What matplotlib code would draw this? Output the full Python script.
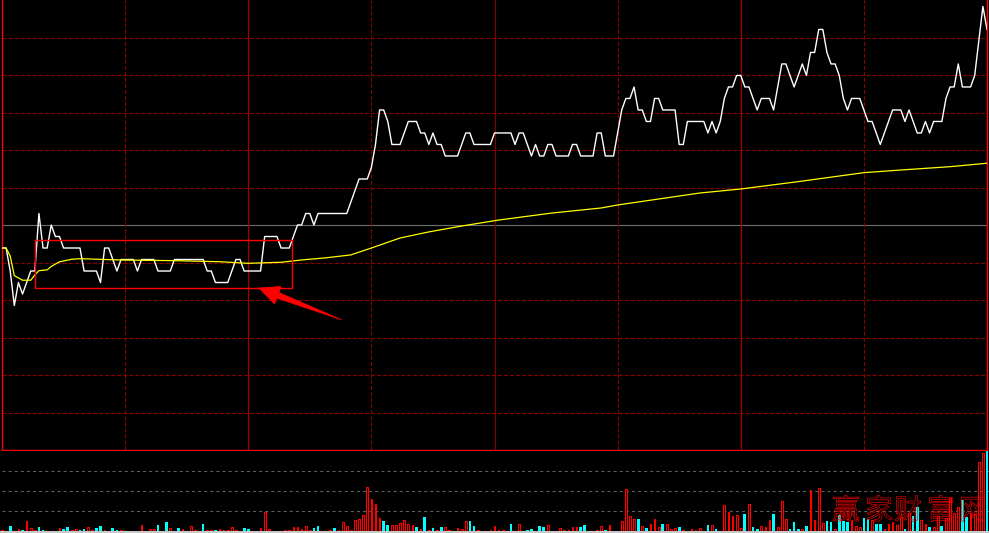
import matplotlib
matplotlib.use('Agg')
import matplotlib.pyplot as plt
from matplotlib.patches import Rectangle, Polygon, PathPatch
from matplotlib.textpath import TextPath
from matplotlib.font_manager import FontProperties
from matplotlib.transforms import Affine2D
import numpy as np

plt.rcParams['lines.scale_dashes'] = False

# ---------------- data ----------------
prev_close = 3.26

price = [
    3.24, 3.24, 3.22, 3.19, 3.21, 3.20, 3.21, 3.22, 3.22, 3.27,
    3.24, 3.24, 3.26, 3.25, 3.25, 3.24, 3.24, 3.24, 3.24, 3.24,
    3.22, 3.22, 3.22, 3.22, 3.21, 3.24, 3.24, 3.23, 3.22, 3.23,
    3.23, 3.23, 3.23, 3.22, 3.23, 3.23, 3.23, 3.23, 3.22, 3.22,
    3.22, 3.22, 3.23, 3.23, 3.23, 3.23, 3.23, 3.23, 3.23, 3.23,
    3.22, 3.22, 3.21, 3.21, 3.21, 3.21, 3.22, 3.23, 3.23, 3.22,
    3.22, 3.22, 3.22, 3.22, 3.25, 3.25, 3.25, 3.25, 3.24, 3.24,
    3.24, 3.25, 3.26, 3.26, 3.27, 3.27, 3.26, 3.27, 3.27, 3.27,
    3.27, 3.27, 3.27, 3.27, 3.27, 3.28, 3.29, 3.30, 3.30, 3.30,
    3.31, 3.33, 3.36, 3.36, 3.35, 3.33, 3.33, 3.33, 3.34, 3.35,
    3.35, 3.35, 3.34, 3.34, 3.33, 3.34, 3.33, 3.33, 3.32, 3.32,
    3.32, 3.32, 3.33, 3.34, 3.34, 3.33, 3.33, 3.33, 3.33, 3.33,
    3.34, 3.34, 3.34, 3.34, 3.34, 3.33, 3.34, 3.34, 3.33, 3.32,
    3.33, 3.32, 3.32, 3.33, 3.33, 3.32, 3.32, 3.32, 3.32, 3.33,
    3.33, 3.32, 3.32, 3.32, 3.32, 3.34, 3.34, 3.32, 3.32, 3.32,
    3.34, 3.36, 3.37, 3.37, 3.38, 3.36, 3.36, 3.35, 3.35, 3.37,
    3.37, 3.36, 3.36, 3.36, 3.36, 3.33, 3.33, 3.35, 3.35, 3.35,
    3.35, 3.35, 3.34, 3.35, 3.34, 3.35, 3.37, 3.38, 3.38, 3.39,
    3.39, 3.38, 3.38, 3.37, 3.36, 3.37, 3.37, 3.37, 3.36, 3.38,
    3.40, 3.40, 3.39, 3.38, 3.39, 3.40, 3.39, 3.41, 3.41, 3.43,
    3.43, 3.41, 3.40, 3.40, 3.39, 3.37, 3.36, 3.37, 3.37, 3.37,
    3.36, 3.35, 3.35, 3.34, 3.33, 3.34, 3.35, 3.36, 3.36, 3.36,
    3.35, 3.36, 3.35, 3.34, 3.34, 3.35, 3.34, 3.35, 3.35, 3.35,
    3.37, 3.38, 3.38, 3.40, 3.38, 3.38, 3.38, 3.39, 3.42, 3.45, 3.43,
]

avg_minute = [0, 1, 2, 3, 5, 7, 8, 9, 11, 12, 14, 17, 19, 29, 42, 53, 60, 68,
              73, 79, 85, 90, 97, 104, 112, 121, 134, 146, 150, 160, 170, 180,
              194, 210, 219, 231, 240]
avg_price = [3.2400, 3.2400, 3.2330, 3.2160, 3.2120, 3.2120, 3.2165, 3.2203,
             3.2210, 3.2240, 3.2280, 3.2302, 3.2307, 3.2296, 3.2290, 3.2281,
             3.2267, 3.2276, 3.2296, 3.2315, 3.2340, 3.2400, 3.2487, 3.2540,
             3.2591, 3.2643, 3.2704, 3.2748, 3.2774, 3.2826, 3.2878, 3.2913,
             3.2977, 3.3055, 3.3078, 3.3107, 3.3137]

volume = [
    1, 0, 5, 0, 2, 1, 10, 3, 1, 4,
    1, 0, 0, 0, 3, 2, 4, 1, 2, 1,
    2, 4, 1, 3, 5, 1, 0, 3, 1, 1,
    0, 0, 0, 0, 6, 0, 2, 2, 6, 0,
    9, 3, 0, 3, 2, 0, 5, 1, 0, 7,
    1, 1, 1, 2, 1, 1, 4, 1, 0, 3,
    2, 0, 0, 3, 19, 2, 0, 0, 0, 1,
    1, 4, 4, 2, 5, 1, 3, 5, 0, 0,
    1, 3, 1, 9, 5, 1, 11, 12, 16, 44,
    32, 27, 13, 10, 6, 6, 6, 8, 11, 7,
    6, 4, 2, 14, 1, 3, 1, 4, 4, 1,
    0, 3, 2, 10, 10, 5, 1, 0, 0, 1,
    5, 1, 1, 0, 7, 0, 7, 0, 1, 2,
    0, 5, 4, 6, 0, 0, 3, 1, 1, 4,
    4, 4, 6, 0, 0, 1, 5, 1, 6, 0,
    0, 10, 42, 15, 12, 12, 5, 3, 7, 12,
    4, 7, 7, 2, 3, 4, 1, 0, 2, 1,
    3, 0, 6, 6, 2, 0, 26, 19, 15, 16,
    3, 17, 27, 4, 2, 5, 4, 11, 17, 4,
    30, 12, 2, 9, 2, 2, 5, 41, 11, 43,
    8, 10, 9, 2, 16, 10, 9, 11, 5, 4,
    13, 12, 11, 7, 7, 2, 7, 9, 6, 14,
    2, 18, 15, 24, 11, 7, 4, 4, 15, 5,
    13, 33, 18, 24, 31, 14, 18, 17, 69, 78, 81,
]

# 1 = up tick (red hollow bar), 0 = down tick (cyan solid bar)
direction = [
    1, 1, 0, 1, 1, 0, 1, 1, 1, 0,
    0, 1, 1, 1, 1, 0, 0, 1, 1, 0,
    0, 1, 1, 0, 0, 1, 1, 0, 0, 1,
    1, 1, 1, 1, 1, 1, 1, 1, 0, 1,
    0, 1, 1, 0, 1, 1, 1, 1, 1, 0,
    1, 1, 0, 1, 1, 1, 1, 1, 1, 0,
    0, 1, 1, 1, 1, 1, 1, 1, 1, 1,
    1, 1, 1, 1, 1, 1, 0, 0, 1, 1,
    1, 0, 1, 1, 1, 1, 1, 1, 1, 1,
    1, 1, 1, 0, 0, 1, 1, 1, 1, 1,
    1, 0, 1, 0, 1, 0, 1, 0, 1, 1,
    1, 1, 1, 1, 0, 0, 1, 1, 1, 1,
    1, 1, 1, 1, 0, 1, 1, 1, 0, 0,
    1, 0, 0, 1, 1, 1, 1, 1, 1, 1,
    1, 0, 0, 1, 1, 1, 1, 0, 1, 1,
    1, 1, 1, 1, 1, 0, 1, 0, 1, 1,
    1, 0, 1, 1, 1, 0, 1, 1, 1, 1,
    1, 1, 0, 1, 0, 1, 1, 1, 1, 1,
    1, 0, 1, 0, 0, 1, 1, 1, 0, 1,
    1, 1, 0, 0, 0, 1, 0, 1, 1, 1,
    1, 0, 0, 1, 0, 0, 0, 1, 1, 1,
    0, 0, 1, 0, 0, 1, 1, 1, 1, 1,
    0, 1, 0, 0, 1, 1, 0, 1, 1, 0,
    1, 1, 1, 1, 0, 0, 1, 1, 1, 1, 0,
]

watermark = "赢家财富网"

assert len(price) == 241 and len(volume) == 241 and len(direction) == 241

# ---------------- figure ----------------
W, H = 989, 533
fig = plt.figure(figsize=(W / 100, H / 100), dpi=100, facecolor='black')

RED = '#ff0000'
GRID_DASH = '#8c0000'
GRID_SOLID = '#a00000'

# price panel: x 2..987 px, y 0..450 px (from top)
ax = fig.add_axes([2 / W, 1 - 450 / H, 985 / W, 450 / H])
ax.set_facecolor('black')
ax.set_xlim(0, 240)
span = prev_close * 0.06
ax.set_ylim(prev_close - span, prev_close + span)
ax.set_xticks([])
ax.set_yticks([])
for side in ['left', 'right', 'bottom']:
    ax.spines[side].set_color(RED)
    ax.spines[side].set_linewidth(1.0)
ax.spines['top'].set_visible(False)

for j in range(-5, 6):
    if j == 0:
        ax.axhline(prev_close, color='#6e6e6e', lw=0.8, zorder=1)
    else:
        ax.axhline(prev_close + span * j / 6, color=GRID_DASH, lw=0.8,
                   dashes=(2.9, 1.45), zorder=1)
for m in range(30, 240, 30):
    if m % 60 == 0:
        col = '#800000' if m == 120 else GRID_SOLID
        ax.axvline(m, color=col, lw=0.9, zorder=1)
    else:
        ax.axvline(m, color=GRID_DASH, lw=0.8, dashes=(2.9, 1.45), zorder=1)

minutes = np.arange(len(price))
ax.plot(minutes, price, color='white', lw=1.0, zorder=3)
ax.plot(avg_minute, avg_price, color='#ffff00', lw=0.9, zorder=3)

# highlight rectangle
tick = 0.01
ax.add_patch(Rectangle((8.0, prev_close - 5.5 * tick), 62.6, 4.17 * tick,
                       fill=False, edgecolor=RED, lw=1.0, zorder=4))

# arrow (pixel coordinates from top-left)
pix = Affine2D().scale(1, -1).translate(0, H)
arrow_pts = [(259, 288), (281, 286.5), (279, 292.5), (342, 320),
             (276.5, 298), (274.5, 304)]
fig.add_artist(Polygon(arrow_pts, closed=True, facecolor=RED, edgecolor=RED,
                       lw=0.5, transform=pix))

# volume panel: y 451..531 px
ppm = 985 / 240
vax = fig.add_axes([0, 2 / H, 1, 80 / H])
vax.set_facecolor('black')
vax.set_xlim(-2 / ppm, 240 + 2 / ppm)
vax.set_ylim(0, 80)
vax.set_xticks([])
vax.set_yticks([])
for s in vax.spines.values():
    s.set_visible(False)
for lvl in (20, 40, 60):
    vax.axhline(lvl, xmin=2 / W, color='#5f5f5f', lw=0.8, dashes=(2.2, 2.2), zorder=1)

vol = np.array(volume)
dirs = np.array(direction)
idx = np.arange(len(vol))
up = dirs == 1
vax.bar(idx[up], vol[up], width=0.42, facecolor='black', edgecolor=RED,
        lw=0.8, zorder=3)
vax.bar(idx[~up], vol[~up], width=0.66, color='#00ffff', lw=0, zorder=3)

# bottom light strip
fig.add_artist(Rectangle((0, 0), 1, 2 / H, transform=fig.transFigure,
                         facecolor='#c8c8c8', edgecolor='none'))

# watermark, hollow red glyphs
fp = FontProperties(family='Noto Sans CJK SC')
char_x = [832, 865, 894, 927, 959]
for ch, x0 in zip(watermark, char_x):
    tp = TextPath((0, 0), ch, size=28, prop=fp)
    tr = Affine2D().translate(x0, H - 519)
    fig.add_artist(PathPatch(tp, facecolor='none', edgecolor=RED, lw=0.45,
                             transform=tr, zorder=5))

fig.savefig('out.png', dpi=100, facecolor='black')
